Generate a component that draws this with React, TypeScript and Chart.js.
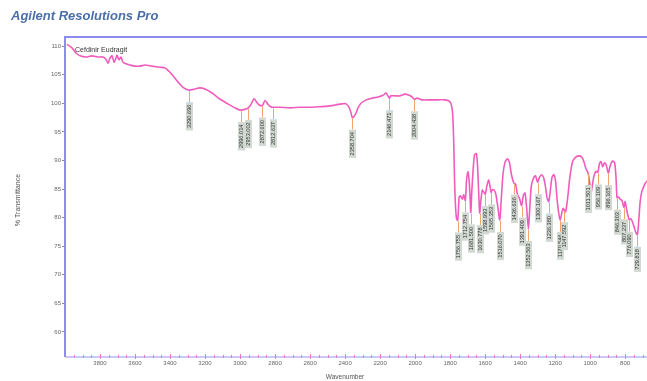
import React, { useEffect, useRef } from 'react';
import { Chart, registerables } from 'chart.js';

Chart.register(...registerables);
Chart.defaults.font.family = 'Arial, "Liberation Sans", sans-serif';

const appTitle = 'Agilent Resolutions Pro';
const seriesName = 'Cefdinir Eudragit';
const xAxisTitle = 'Wavenumber';
const yAxisTitle = '% Transmittance';

// IR spectrum, wavenumber (cm-1) descending
const wavenumbers = [
  3989, 3960, 3937, 3914, 3880, 3846, 3811, 3783, 3766, 3754, 3743, 3731, 3720, 3709, 3703,
  3691, 3680, 3669, 3651, 3629, 3600, 3571, 3543, 3503, 3457, 3429, 3406, 3383, 3354, 3326,
  3290.696, 3257, 3229, 3200, 3160, 3114, 3069, 3029, 2996.014, 2966, 2953.002, 2937, 2920,
  2905, 2890, 2872.6, 2857, 2840, 2825, 2812.637, 2771, 2714, 2657, 2600, 2543, 2497, 2457,
  2417, 2394, 2377, 2366, 2358.704, 2349, 2337, 2326, 2309, 2280, 2246, 2211, 2183, 2166,
  2146.471, 2138, 2114, 2086, 2057, 2034, 2017, 2004.438, 1989, 1960, 1914, 1869, 1829, 1806,
  1794, 1785, 1779, 1774, 1768, 1763, 1756.755, 1752, 1748, 1740, 1730, 1722, 1712.754, 1706,
  1698, 1690, 1685, 1681.5, 1676, 1668, 1660, 1650, 1643, 1636, 1630.778, 1624, 1616, 1608,
  1598.993, 1590, 1580, 1572, 1565.353, 1558, 1548, 1538, 1528, 1516.07, 1508, 1498, 1486,
  1472, 1460, 1450, 1436.636, 1425, 1415, 1404, 1391.409, 1382, 1372, 1362, 1352.563, 1345,
  1336, 1322, 1312, 1300.167, 1290, 1278, 1266, 1256, 1246, 1236.38, 1228, 1218, 1208, 1198,
  1188, 1178, 1170.546, 1162, 1155, 1147.592, 1140, 1128, 1116, 1100, 1085, 1065, 1048, 1036,
  1024, 1011.501, 1002, 995, 988, 978, 966, 956.109, 946, 938, 928, 918, 908, 896.165, 886,
  872, 860, 852, 846.303, 838, 828, 818, 807.237, 800, 792, 785, 776.09, 768, 760, 750, 740,
  729.818, 722, 714, 705, 695, 685, 675,
];

// % transmittance at each wavenumber above
const transmittance = [
  110.3, 109.7, 108.8, 108.3, 108.1, 108.3, 108.1, 108.1, 107.7, 107.0, 107.9, 108.3, 107.2, 107.9, 108.4,
  107.6, 108.1, 107.2, 106.9, 106.7, 106.5, 106.5, 106.7, 106.5, 106.3, 106.2, 105.6, 104.8, 103.7, 102.8,
  102.3, 102.5, 102.7, 102.5, 101.8, 100.7, 99.9, 99.2, 98.8, 99.0, 99.2, 99.8, 100.8,
  100.2, 99.7, 99.6, 100.5, 99.8, 99.4, 99.3, 99.3, 99.2, 99.3, 99.3, 99.4, 99.5, 99.7,
  99.9, 99.9, 99.3, 98.3, 97.5, 97.7, 98.3, 99.2, 100.0, 100.6, 100.9, 101.1, 101.4, 101.8,
  100.9, 101.3, 101.3, 101.3, 101.6, 101.4, 101.1, 100.7, 100.9, 100.6, 100.6, 100.6, 100.6, 100.4,
  99.9, 98.0, 93.0, 86.0, 81.5, 79.8, 79.5, 81.5, 83.6, 83.8, 83.2, 84.0, 83.0, 86.5,
  88.0, 86.0, 83.0, 80.9, 84.5, 88.5, 91.0, 91.2, 89.0, 84.0, 80.8, 83.0, 84.8, 84.5,
  84.1, 85.5, 86.6, 85.5, 84.4, 84.9, 84.8, 84.0, 82.0, 79.6, 83.0, 87.5, 89.7,
  90.3, 89.5, 87.6, 86.1, 85.8, 84.0, 83.4, 82.1, 83.8, 84.3, 81.5, 78.0, 81.5,
  85.5, 87.0, 87.3, 86.2, 87.0, 87.5, 87.0, 85.6, 83.5, 82.8, 84.5, 87.0, 87.5, 86.5,
  83.0, 80.5, 79.6, 80.8, 81.6, 81.3, 81.0, 83.5, 87.0, 89.8, 90.5, 90.8, 90.6, 89.8,
  88.6, 87.8, 86.0, 84.3, 85.5, 87.3, 88.1, 87.9, 89.5, 89.8, 88.9, 89.6, 89.2, 87.8, 89.0,
  89.9, 89.6, 87.0, 83.5, 83.6, 83.2, 83.0, 81.8, 82.8, 81.5, 80.5, 79.6, 79.8, 79.4, 78.5, 77.5,
  77.0, 79.5, 82.8, 84.5, 85.3, 86.0, 86.4,
];

// picked peaks (cm-1)
const peakWavenumbers = [
  3290.696, 2996.014, 2953.002, 2872.6, 2812.637, 2358.704, 2146.471, 2004.438,
  1756.755, 1712.754, 1681.5, 1630.778, 1598.993, 1565.353, 1516.07, 1436.636, 1391.409,
  1352.563, 1300.167, 1236.38, 1170.546, 1147.592, 1011.501, 956.109, 896.165, 846.303,
  807.237, 776.09, 729.818,
];

const xTickValues = [3800, 3600, 3400, 3200, 3000, 2800, 2600, 2400, 2200, 2000, 1800, 1600, 1400, 1200, 1000, 800];
const yTickValues = [60, 65, 70, 75, 80, 85, 90, 95, 100, 105, 110];

const X_MAX = 4000;
const X_MIN = 675;
const Y_MIN = 55.6;
const Y_MAX = 111.6;

function transmittanceAt(wn: number): number {
  let best = 0;
  for (let i = 1; i < wavenumbers.length; i++) {
    if (Math.abs(wavenumbers[i] - wn) < Math.abs(wavenumbers[best] - wn)) best = i;
  }
  return transmittance[best];
}

const FONT = 'Arial, "Liberation Sans", sans-serif';

const decorations = {
  id: 'spectrumDecorations',
  afterDraw(chart: any) {
    const { ctx, chartArea: a, scales } = chart;
    const xs = scales.x;
    const ys = scales.y;
    ctx.save();

    // plot frame (left and top)
    ctx.strokeStyle = '#8c8cf0';
    ctx.lineWidth = 2;
    ctx.beginPath();
    ctx.moveTo(a.left, a.bottom);
    ctx.lineTo(a.left, a.top);
    ctx.lineTo(a.right, a.top);
    ctx.stroke();

    // bottom axis line
    ctx.strokeStyle = '#9b92e8';
    ctx.lineWidth = 1.2;
    ctx.beginPath();
    ctx.moveTo(a.left, a.bottom);
    ctx.lineTo(a.right, a.bottom);
    ctx.stroke();

    // minor and major ticks along the wavenumber axis
    ctx.strokeStyle = '#e878c8';
    ctx.lineWidth = 1;
    for (let w = X_MAX - 50; w >= X_MIN; w -= 50) {
      const px = Math.round(xs.getPixelForValue(w)) + 0.5;
      const major = w % 200 === 0;
      ctx.beginPath();
      ctx.moveTo(px, a.bottom - (major ? 3 : 2));
      ctx.lineTo(px, a.bottom + (major ? 2 : 1));
      ctx.stroke();
    }

    // peak markers
    ctx.font = `5.6px ${FONT}`;
    for (const p of peakWavenumbers) {
      const px = Math.round(xs.getPixelForValue(p)) + 0.5;
      const py = ys.getPixelForValue(transmittanceAt(p));
      const text = p.toFixed(3);
      const tw = ctx.measureText(text).width;
      const boxH = tw + 5;
      const top = py + 12;
      ctx.strokeStyle = '#f2a46c';
      ctx.lineWidth = 1;
      ctx.beginPath();
      ctx.moveTo(px, py + 1);
      ctx.lineTo(px, top);
      ctx.stroke();
      ctx.fillStyle = '#d2d9d2';
      ctx.fillRect(px - 3.5, top, 7, boxH);
      ctx.save();
      ctx.translate(px, top + boxH / 2);
      ctx.rotate(-Math.PI / 2);
      ctx.fillStyle = '#333';
      ctx.textAlign = 'center';
      ctx.textBaseline = 'middle';
      ctx.fillText(text, 0, 0);
      ctx.restore();
    }

    // series name
    ctx.fillStyle = '#333';
    ctx.font = `7px ${FONT}`;
    ctx.textAlign = 'left';
    ctx.textBaseline = 'middle';
    ctx.fillText(seriesName, a.left + 10, a.top + 13);

    // axis titles
    ctx.fillStyle = '#555';
    ctx.font = `6.5px ${FONT}`;
    ctx.textAlign = 'center';
    ctx.fillText(xAxisTitle, 345, 377);
    ctx.save();
    ctx.translate(18, 200);
    ctx.rotate(-Math.PI / 2);
    ctx.font = `7px ${FONT}`;
    ctx.fillText(yAxisTitle, 0, 0);
    ctx.restore();

    // application header
    ctx.fillStyle = '#4d6fa8';
    ctx.font = `italic bold 13px ${FONT}`;
    ctx.textAlign = 'left';
    ctx.fillText(appTitle, 11, 16);

    ctx.restore();
  },
};

export default function App() {
  const canvasRef = useRef<HTMLCanvasElement | null>(null);

  useEffect(() => {
    if (!canvasRef.current) return;
    const chart = new Chart(canvasRef.current, {
      type: 'line',
      data: {
        datasets: [
          {
            label: seriesName,
            data: wavenumbers.map((w, i) => ({ x: w, y: transmittance[i] })),
            borderColor: '#f05cbc',
            borderWidth: 1.6,
            pointRadius: 0,
            tension: 0.25,
            fill: false,
          },
        ],
      },
      options: {
        animation: false,
        responsive: false,
        devicePixelRatio: 1,
        layout: { padding: { top: 37, right: 0, left: 0, bottom: 0 } },
        plugins: {
          legend: { display: false },
          tooltip: { enabled: false },
          title: { display: false },
        },
        scales: {
          x: {
            type: 'linear',
            reverse: true,
            min: X_MIN,
            max: X_MAX,
            afterBuildTicks: (s: any) => {
              s.ticks = xTickValues.map((v) => ({ value: v }));
            },
            afterFit: (s: any) => {
              s.height = 24;
            },
            grid: { display: false, drawTicks: false, tickLength: 0 },
            border: { display: false },
            ticks: {
              font: { size: 6 },
              color: '#666',
              padding: 3,
              maxRotation: 0,
              autoSkip: false,
              callback: (v: any) => String(v),
            },
          },
          y: {
            min: Y_MIN,
            max: Y_MAX,
            afterBuildTicks: (s: any) => {
              s.ticks = yTickValues.map((v) => ({ value: v }));
            },
            afterFit: (s: any) => {
              s.width = 65;
            },
            grid: { drawOnChartArea: false, tickLength: 3, color: '#888' },
            border: { display: false },
            ticks: { font: { size: 6 }, color: '#666', padding: 1, autoSkip: false },
          },
        },
      },
      plugins: [decorations],
    } as any);
    return () => chart.destroy();
  }, []);

  return (
    <div style={{ position: 'fixed', left: 0, top: 0, width: 647, height: 381, background: '#fff' }}>
      <canvas ref={canvasRef} width={647} height={381} style={{ display: 'block' }} />
    </div>
  );
}
